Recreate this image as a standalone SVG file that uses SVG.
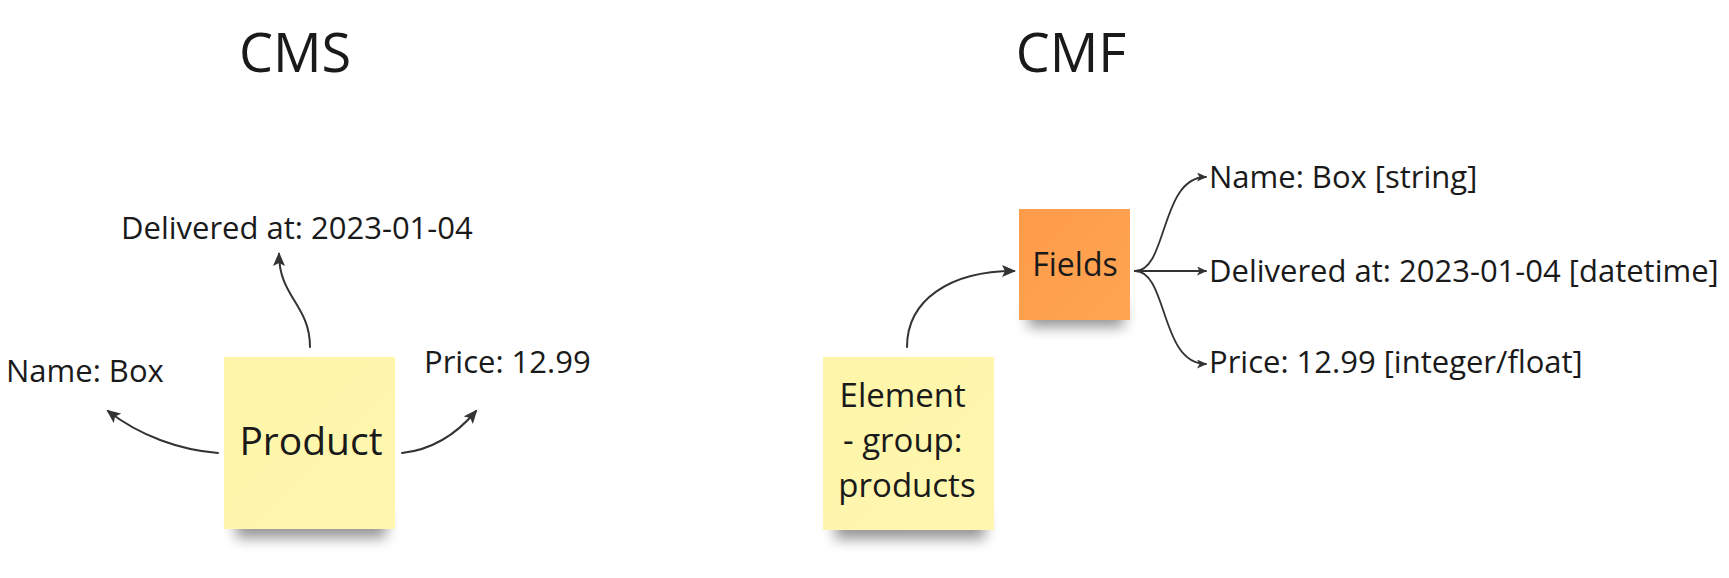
<svg xmlns="http://www.w3.org/2000/svg" width="1729" height="578" viewBox="0 0 1729 578">
<style>
  .t { font-family: "Open Sans", "Noto Sans", "Liberation Sans", sans-serif; fill: #1a1a1a; }
  .title { font-size: 54px; text-anchor: middle; }
  .lbl { font-size: 31px; }
  .conn { fill: none; stroke: #333333; stroke-width: 2; stroke-linecap: round; }
  .thin { stroke-width: 1.8; }
  .shadow { fill: #000000; opacity: 0.42; filter: url(#blur); }
</style>
<defs>
  <filter id="blur" x="-30%" y="-100%" width="160%" height="300%">
    <feGaussianBlur stdDeviation="7"/>
  </filter>
  <linearGradient id="yellow" x1="0" y1="0" x2="1" y2="1">
    <stop offset="0" stop-color="#fdf5a8"/>
    <stop offset="1" stop-color="#fff7b0"/>
  </linearGradient>
  <linearGradient id="orange" x1="0" y1="0" x2="1" y2="1">
    <stop offset="0" stop-color="#fd9b4a"/>
    <stop offset="1" stop-color="#ffa552"/>
  </linearGradient>
  <marker id="ah" viewBox="0 0 14 12" refX="12" refY="6" markerWidth="14" markerHeight="12" markerUnits="userSpaceOnUse" orient="auto">
    <path d="M0,0 L14,6 L0,12 L3,6 z" fill="#333333"/>
  </marker>
  <marker id="ahs" viewBox="0 0 10 9" refX="9" refY="4.5" markerWidth="10" markerHeight="9" markerUnits="userSpaceOnUse" orient="auto">
    <path d="M0,0 L10,4.5 L0,9 L2.5,4.5 z" fill="#333333"/>
  </marker>
</defs>

<rect width="1729" height="578" fill="#ffffff"/>

<g id="title-cms"><text class="t title" x="295" y="72">CMS</text></g>
<g id="title-cmf"><text class="t title" x="1071" y="72">CMF</text></g>

<g id="connectors">
  <path class="conn" d="M310,347 C310,305 279,297 279,254" marker-end="url(#ah)"/>
  <path class="conn" d="M218,453 C180,450 140,436 108,411" marker-end="url(#ah)"/>
  <path class="conn" d="M402,453 C430,450 455,436 476,411" marker-end="url(#ah)"/>
  <path class="conn" d="M907,347 C907,300 950,271 1014,271" marker-end="url(#ah)"/>
  <path class="conn thin" d="M1135,271 C1168,271 1160,177 1206,177" marker-end="url(#ahs)"/>
  <path class="conn thin" d="M1135,271 L1206,271" marker-end="url(#ahs)"/>
  <path class="conn thin" d="M1135,271 C1168,271 1160,364 1206,364" marker-end="url(#ahs)"/>
</g>

<g id="node-product">
  <rect class="shadow" x="236" y="510" width="150" height="28"/>
  <rect x="224" y="357" width="171" height="172" fill="url(#yellow)"/>
  <text class="t" x="311" y="455" font-size="39" text-anchor="middle">Product</text>
</g>

<g id="node-delivered"><text class="t lbl" x="121" y="239">Delivered at: 2023-01-04</text></g>
<g id="node-name"><text class="t lbl" x="6" y="382">Name: Box</text></g>
<g id="node-price"><text class="t lbl" x="424" y="373">Price: 12.99</text></g>

<g id="node-element">
  <rect class="shadow" x="835" y="511" width="150" height="28"/>
  <rect x="823" y="357" width="171" height="173" fill="url(#yellow)"/>
  <text class="t" font-size="33" text-anchor="middle">
    <tspan x="907" y="407">Element</tspan>
    <tspan x="907" y="452">- group:</tspan>
    <tspan x="907" y="497">products</tspan>
  </text>
</g>

<g id="node-fields">
  <rect class="shadow" x="1028" y="302" width="96" height="25"/>
  <rect x="1019" y="209" width="111" height="111" fill="url(#orange)"/>
  <text class="t" x="1075" y="276" font-size="32" text-anchor="middle">Fields</text>
</g>

<g id="node-cmf-name"><text class="t lbl" x="1209" y="188">Name: Box [string]</text></g>
<g id="node-cmf-delivered"><text class="t lbl" x="1209" y="282">Delivered at: 2023-01-04 [datetime]</text></g>
<g id="node-cmf-price"><text class="t lbl" x="1209" y="373">Price: 12.99 [integer/float]</text></g>
</svg>
